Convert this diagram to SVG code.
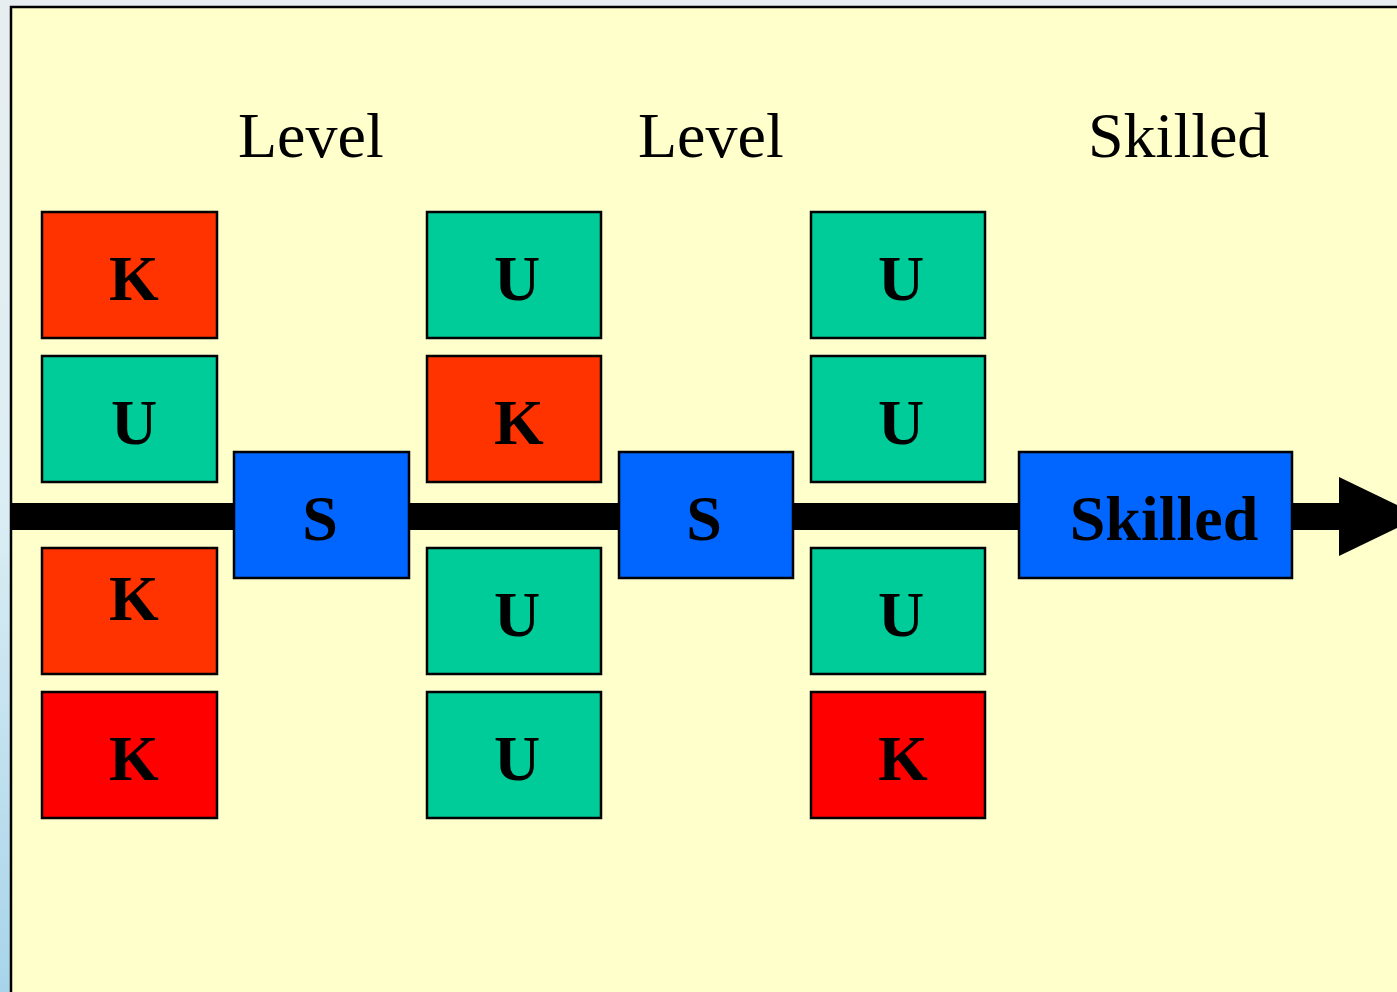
<svg xmlns="http://www.w3.org/2000/svg" width="1397" height="992" viewBox="0 0 1397 992">
<defs>
<style>
.lbl{font-family:"Liberation Serif","Times New Roman",serif;font-size:64px;fill:#000}
.bl{font-family:"Liberation Serif","Times New Roman",serif;font-size:64px;font-weight:bold;fill:#000;text-anchor:middle}
.box{stroke:#000;stroke-width:2.5}
.k{fill:#FF3300}
.kr{fill:#FF0000}
.u{fill:#00CC99}
.s{fill:#0066FF}
</style>
<linearGradient id="bg" x1="0" y1="0" x2="0" y2="1">
<stop offset="0" stop-color="#e8eef0"/>
<stop offset="0.5" stop-color="#dceef4"/>
<stop offset="1" stop-color="#a8d4ea"/>
</linearGradient>
</defs>
<rect x="0" y="0" width="1397" height="992" fill="url(#bg)"/>
<rect id="panel" x="11" y="7" width="1400" height="1000" fill="#FFFFCC" stroke="#000" stroke-width="2.5"/>
<g id="titles">
<text class="lbl" x="238" y="157">Level</text>
<text class="lbl" x="638" y="157">Level</text>
<text class="lbl" x="1088" y="157">Skilled</text>
</g>
<g id="connectors">
<rect x="12" y="503" width="1328" height="27" fill="#000"/>
<polygon points="1339,477 1421,516.5 1339,556" fill="#000"/>
</g>
<g id="c1r1"><rect class="box k" x="42" y="212" width="175" height="126"/><text class="bl" x="134" y="300">K</text></g>
<g id="c1r2"><rect class="box u" x="42" y="356" width="175" height="126"/><text class="bl" x="134" y="444">U</text></g>
<g id="c1r3"><rect class="box k" x="42" y="548" width="175" height="126"/><text class="bl" x="134" y="620">K</text></g>
<g id="c1r4"><rect class="box kr" x="42" y="692" width="175" height="126"/><text class="bl" x="134" y="780">K</text></g>
<g id="s1"><rect class="box s" x="234" y="452" width="175" height="126"/><text class="bl" x="320" y="540">S</text></g>
<g id="c2r1"><rect class="box u" x="427" y="212" width="174" height="126"/><text class="bl" x="517" y="300">U</text></g>
<g id="c2r2"><rect class="box k" x="427" y="356" width="174" height="126"/><text class="bl" x="519" y="444">K</text></g>
<g id="c2r3"><rect class="box u" x="427" y="548" width="174" height="126"/><text class="bl" x="517" y="636">U</text></g>
<g id="c2r4"><rect class="box u" x="427" y="692" width="174" height="126"/><text class="bl" x="517" y="780">U</text></g>
<g id="s2"><rect class="box s" x="619" y="452" width="174" height="126"/><text class="bl" x="704" y="540">S</text></g>
<g id="c3r1"><rect class="box u" x="811" y="212" width="174" height="126"/><text class="bl" x="901" y="300">U</text></g>
<g id="c3r2"><rect class="box u" x="811" y="356" width="174" height="126"/><text class="bl" x="901" y="444">U</text></g>
<g id="c3r3"><rect class="box u" x="811" y="548" width="174" height="126"/><text class="bl" x="901" y="636">U</text></g>
<g id="c3r4"><rect class="box kr" x="811" y="692" width="174" height="126"/><text class="bl" x="903" y="780">K</text></g>
<g id="skilled"><rect class="box s" x="1019" y="452" width="273" height="126"/><text class="bl" x="1164" y="540">Skilled</text></g>
</svg>
